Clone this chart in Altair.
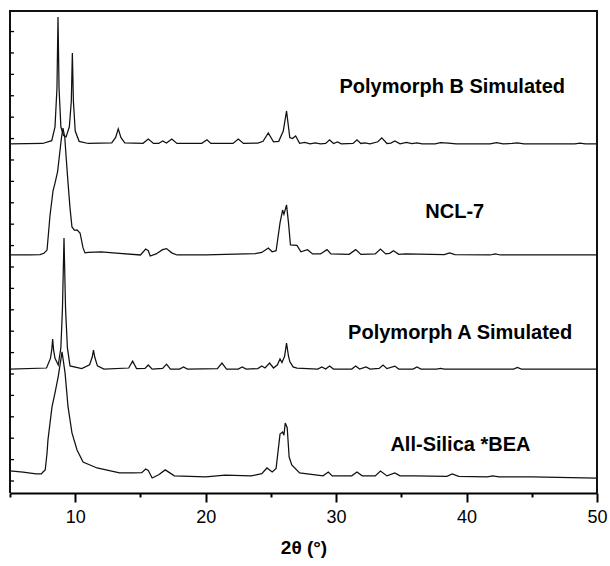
import altair as alt
import pandas as pd

# ---------------- data ----------------
# 2-theta positions and intensities above each trace's own baseline (a.u.)
b_tt = [5.0, 7.5, 8.2, 8.45, 8.6, 8.68, 8.76, 8.9, 9.1, 9.3, 9.55, 9.7, 9.78, 9.86, 10.0, 10.3, 11.0,
        12.8, 13.1, 13.3, 13.5, 13.8, 15.2, 15.6, 16.0, 16.4, 16.7, 17.0, 17.4, 17.8, 19.7, 20.1, 20.4,
        22.1, 22.5, 22.9, 24.0, 24.4, 24.8, 25.2, 25.6, 25.95, 26.2, 26.45, 26.65, 26.9, 27.2, 27.6, 28.0,
        28.4, 28.8, 29.2, 29.5, 29.8, 30.1, 30.4, 31.3, 31.6, 31.9, 32.2, 32.6, 33.2, 33.5, 33.9, 34.2,
        34.5, 34.9, 35.4, 35.8, 36.2, 36.6, 37.6, 38.0, 38.6, 39.2, 41.8, 42.3, 42.8, 43.5, 43.9, 44.4,
        48.3, 48.7, 49.1, 50.0]
b_int = [0.0, 0.02, 0.15, 0.8, 2.6, 5.93, 2.6, 0.8, 0.4, 0.33, 0.8, 2.0, 4.25, 2.0, 0.6, 0.12, 0.02,
         0.05, 0.3, 0.7, 0.3, 0.05, 0.03, 0.23, 0.02, 0.02, 0.14, 0.04, 0.23, 0.02, 0.03, 0.19, 0.02,
         0.02, 0.23, 0.02, 0.04, 0.12, 0.51, 0.1, 0.12, 0.6, 1.54, 0.3, 0.25, 0.37, 0.03, 0.07, 0.0,
         0.05, 0.0, 0.02, 0.19, 0.02, 0.09, 0.0, 0.02, 0.19, 0.02, 0.05, 0.0, 0.1, 0.28, 0.02, 0.04,
         0.14, 0.0, 0.07, 0.01, 0.05, 0.0, 0.0, 0.06, 0.04, 0.0, 0.0, 0.06, 0.0, 0.02, 0.05, 0.0,
         0.0, 0.04, 0.0, 0.0]

n_tt = [5.0, 6.5, 7.3, 7.6, 7.84, 8.07, 8.3, 8.45, 8.65, 8.83, 8.95, 9.06, 9.2, 9.3, 9.45, 9.6, 9.75,
        9.95, 10.14, 10.37, 10.6, 10.75, 11.0, 12.0, 12.9, 15.0, 15.4, 15.6, 15.75, 16.2, 16.7, 17.0,
        17.4, 17.8, 20.0, 23.8, 24.3, 24.8, 25.1, 25.4, 25.7, 25.9, 26.0, 26.2, 26.35, 26.5, 27.0, 27.3,
        27.8, 28.2, 28.8, 29.3, 29.6, 31.0, 31.5, 31.9, 33.0, 33.4, 33.8, 34.1, 34.4, 34.8, 35.3, 38.3,
        38.7, 39.1, 41.8, 42.2, 42.6, 50.0]
n_int = [0.0, 0.0, 0.02, 0.08, 0.23, 1.87, 3.0, 3.36, 3.9, 4.86, 5.5, 5.93, 5.5, 4.6, 3.36, 2.2, 1.31,
         1.15, 1.17, 1.03, 0.33, 0.1, 0.12, 0.14, 0.1, 0.0, 0.28, 0.2, -0.05, 0.05, 0.25, 0.3,
         0.1, 0.0, 0.0, 0.06, 0.12, 0.33, 0.15, 0.2, 1.5, 2.1, 1.9, 2.34, 1.5, 0.47, 0.45, 0.15,
         0.25, 0.05, 0.05, 0.25, 0.05, 0.03, 0.25, 0.03, 0.05, 0.28, 0.05, 0.08, 0.2, 0.03, 0.05, 0.02,
         0.1, 0.02, 0.0, 0.05, 0.0, 0.0]

a_tt = [5.0, 7.8, 8.1, 8.2, 8.27, 8.34, 8.45, 8.7, 8.9, 9.02, 9.14, 9.26, 9.4, 9.6, 10.5, 11.1, 11.3,
        11.4, 11.5, 11.7, 12.2, 14.1, 14.4, 14.7, 15.35, 15.6, 15.9, 16.7, 17.0, 17.3, 18.0, 18.3, 18.6,
        20.9, 21.25, 21.6, 22.5, 22.8, 23.1, 24.0, 24.3, 24.55, 24.9, 25.2, 25.5, 25.7, 25.85, 26.05, 26.2,
        26.35, 26.45, 26.7, 27.0, 28.6, 28.9, 29.2, 29.5, 29.8, 31.2, 31.5, 31.8, 32.3, 32.6, 33.3, 33.6,
        33.9, 34.5, 34.8, 35.9, 36.2, 36.5, 37.7, 38.0, 38.3, 43.6, 43.9, 44.2, 50.0]
a_int = [0.0, 0.05, 0.5, 0.9, 1.4, 0.9, 0.5, 0.19, 1.0, 2.8, 6.12, 2.8, 1.0, 0.15, 0.02, 0.2, 0.55,
         0.89, 0.55, 0.15, 0.0, 0.05, 0.37, 0.02, 0.03, 0.19, 0.0, 0.03, 0.23, 0.0, 0.0, 0.1, 0.0,
         0.02, 0.28, 0.0, 0.0, 0.1, 0.0, 0.02, 0.14, 0.05, 0.28, 0.05, 0.2, 0.47, 0.3, 0.6, 1.21,
         0.6, 0.35, 0.1, 0.05, 0.0, 0.1, 0.0, 0.14, 0.0, 0.0, 0.14, 0.0, 0.1, 0.0, 0.03, 0.19,
         0.02, 0.14, 0.0, 0.0, 0.1, 0.0, 0.0, 0.03, 0.0, 0.0, 0.08, 0.0, 0.0]

s_tt = [5.0, 6.0, 7.0, 7.4, 7.53, 7.7, 7.84, 7.91, 8.22, 8.45, 8.7, 8.99, 9.22, 9.45, 9.75, 10.14, 10.6,
        11.67, 13.4, 14.4, 15.1, 15.4, 15.6, 15.9, 16.4, 16.9, 17.6, 20.0, 21.5, 23.5, 24.3, 24.7, 25.1,
        25.4, 25.7, 25.9, 26.0, 26.1, 26.25, 26.4, 26.6, 27.2, 29.0, 29.4, 29.7, 31.2, 31.6, 32.0, 33.0,
        33.4, 33.9, 34.5, 34.9, 36.0, 38.5, 38.9, 39.4, 41.6, 42.0, 42.5, 45.0, 50.0]
s_int = [0.28, 0.23, 0.14, 0.14, 0.23, 0.33, 1.12, 1.73, 3.27, 3.93, 4.7, 5.84, 4.86, 3.27, 2.06, 1.26, 0.7,
         0.42, 0.19, 0.19, 0.2, 0.37, 0.3, -0.05, 0.1, 0.33, 0.05, 0.0, 0.09, 0.05, 0.15, 0.42, 0.23,
         0.4, 2.0, 2.1, 1.95, 2.52, 2.3, 0.93, 0.56, 0.19, 0.05, 0.23, 0.05, 0.05, 0.23, 0.05, 0.05,
         0.28, 0.05, 0.19, 0.05, 0.05, 0.03, 0.14, 0.03, 0.0, 0.05, 0.0, 0.0, -0.05]

series_names = ["Polymorph B Simulated", "NCL-7", "Polymorph A Simulated", "All-Silica *BEA"]
series_offsets = [15.75, 10.56, 5.23, 0.19]

# label anchor (right end) positions in data units
label_x = [47.55, 41.35, 48.1, 44.9]
label_y = [18.41, 12.57, 6.92, 1.68]

x_ticks = [5, 10, 15, 20, 25, 30, 35, 40, 45, 50]
y_ticks = list(range(0, 22))
x_domain = [5, 50]
y_domain = [-0.56, 21.96]

# ---------------- build table ----------------
rows = []
for name, off, tt, inten in zip(series_names, series_offsets,
                                [b_tt, n_tt, a_tt, s_tt], [b_int, n_int, a_int, s_int]):
    for i, (t, v) in enumerate(zip(tt, inten)):
        rows.append({"series": name, "order": i, "tt": t, "y": off + v})
# frame outline (left, top and right edges) drawn along the scale domains
frame_path = [(x_domain[0], y_domain[0]), (x_domain[0], y_domain[1]),
              (x_domain[1], y_domain[1]), (x_domain[1], y_domain[0])]
for i, (fx, fy) in enumerate(frame_path):
    rows.append({"series": "frame", "order": i, "tt": fx, "y": fy})
df = pd.DataFrame(rows)
labels_df = pd.DataFrame({"series": series_names, "x": label_x, "y": label_y})
yticks_df = pd.DataFrame({"y": y_ticks})

W, H = 587, 482
xscale = alt.Scale(domain=x_domain, nice=False, zero=False)
yscale = alt.Scale(domain=y_domain, nice=False, zero=False)

x_axis = alt.Axis(values=x_ticks,
                  labelExpr="datum.value % 10 === 0 ? datum.label : ''",
                  tickSize={"condition": {"test": "datum.value % 10 === 0", "value": 9}, "value": 4},
                  tickWidth=2, tickColor="black", domainColor="black", domainWidth=2,
                  labelFont="Liberation Sans", labelFontSize=18, labelColor="black",
                  labelPadding=6, labelFlush=False,
                  titleFont="Liberation Sans", titleFontSize=19, titleFontWeight="bold",
                  titleColor="black", titlePadding=12, grid=False)

lines = alt.Chart(df).mark_line(color="#111111", interpolate="linear").encode(
    x=alt.X("tt:Q", scale=xscale, title="2θ (°)", axis=x_axis),
    y=alt.Y("y:Q", scale=yscale, axis=None),
    detail="series:N",
    order="order:Q",
    strokeWidth=alt.condition(alt.datum.series == "frame", alt.value(2), alt.value(1.25)),
)

# inward-pointing minor ticks on the left frame
left_ticks = alt.Chart(yticks_df).mark_rule(color="black", strokeWidth=1.3).encode(
    y=alt.Y("y:Q", scale=yscale, axis=None),
    x=alt.value(0),
    x2=alt.value(4),
)

texts = alt.Chart(labels_df).mark_text(
    align="right", baseline="middle", font="Liberation Sans", fontSize=20,
    fontWeight="bold", color="black"
).encode(
    x=alt.X("x:Q", scale=xscale, title="2θ (°)", axis=x_axis),
    y=alt.Y("y:Q", scale=yscale, axis=None),
    text="series:N",
)

chart = alt.layer(lines, left_ticks, texts).properties(
    width=W, height=H,
    autosize=alt.AutoSizeParams(type="none"),
    padding={"left": 10, "top": 11, "right": 13, "bottom": 73},
).configure(background="white")

chart.save("out.html", embed_options={"renderer": "svg", "actions": False})
